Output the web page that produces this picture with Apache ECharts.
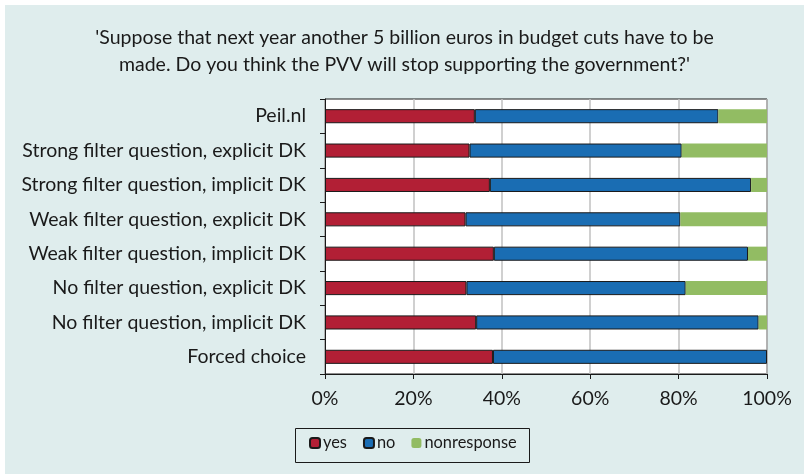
<!DOCTYPE html>
<html>
<head>
<meta charset="utf-8">
<script src="https://cdn.jsdelivr.net/npm/echarts@6/dist/echarts.min.js"></script>
<style>
  html, body { margin: 0; padding: 0; background: #ffffff; }
  #chart { position: absolute; left: 5px; top: 5px; width: 799px; height: 469px; background: #dfeded; }
</style>
</head>
<body>
<div id="chart"></div>
<script>
// Survey conditions, listed top to bottom
const categories = [
  'Peil.nl',
  'Strong filter question, explicit DK',
  'Strong filter question, implicit DK',
  'Weak filter question, explicit DK',
  'Weak filter question, implicit DK',
  'No filter question, explicit DK',
  'No filter question, implicit DK',
  'Forced choice'
];
// Shares in percent, same order as categories
const yesValues = [33.9, 32.7, 37.3, 31.8, 38.2, 32.0, 34.2, 38.0];
const noValues = [55.1, 48.0, 59.1, 48.6, 57.5, 49.6, 63.9, 62.0];
const nonresponseValues = [11.0, 19.3, 3.6, 19.6, 4.3, 18.4, 1.9, 0.0];
const xTicks = [0, 20, 40, 60, 80, 100];

const titleLines = [
  "'Suppose that next year another 5 billion euros in budget cuts have to be",
  "made. Do you think the PVV will stop supporting the government?'"
];

const FONT = 'Lato, "Open Sans", sans-serif';
const INK = '#1a1a1a';
const chart = echarts.init(document.getElementById('chart'));

// category axis is drawn bottom-up, so reverse for top-down order
const rev = a => a.slice().reverse();

const barBase = {
  type: 'bar',
  stack: 'total',
  barCategoryGap: '59%',
  silent: true
};

chart.setOption({
  animation: false,
  title: {
    text: titleLines.join('\n'),
    left: 'center',
    top: 14,
    textStyle: { fontFamily: FONT, fontSize: 19.5, fontWeight: 'normal', color: INK, lineHeight: 27 }
  },
  grid: {
    left: 320, right: 37, top: 94, bottom: 100,
    show: true, backgroundColor: '#ffffff', borderColor: INK, borderWidth: 1
  },
  // frame around the legend
  graphic: [{
    type: 'rect', left: 288, top: 421, silent: true,
    shape: { width: 234, height: 34 },
    style: { fill: 'none', stroke: INK, lineWidth: 1 }
  }],
  legend: {
    left: 304, top: 429,
    itemWidth: 10, itemHeight: 10, itemGap: 16,
    padding: 0,
    textStyle: { fontFamily: FONT, fontSize: 16.4, color: INK, lineHeight: 18, padding: [0, 0, 0, -2] },
    data: ['yes', 'no', 'nonresponse']
  },
  xAxis: {
    type: 'value', min: 0, max: 100, interval: 20,
    axisLine: { show: true, lineStyle: { color: INK, width: 1 } },
    axisTick: { show: true, length: 5, lineStyle: { color: INK } },
    axisLabel: {
      fontFamily: FONT, fontSize: 19.5, color: INK, margin: 15,
      formatter: v => xTicks.includes(v) ? v + '%' : ''
    },
    splitLine: { show: true, lineStyle: { color: '#c0c0c0', width: 1.5 } }
  },
  yAxis: {
    type: 'category', data: rev(categories),
    axisLine: { show: true, lineStyle: { color: INK, width: 1 } },
    axisTick: { show: true, length: 5, lineStyle: { color: INK } },
    axisLabel: { fontFamily: FONT, fontSize: 19.5, color: INK, margin: 19 }
  },
  series: [
    Object.assign({}, barBase, {
      name: 'yes', data: rev(yesValues),
      itemStyle: { color: '#b21f35', borderColor: INK, borderWidth: 1 }
    }),
    Object.assign({}, barBase, {
      name: 'no', data: rev(noValues),
      itemStyle: { color: '#1a6db3', borderColor: INK, borderWidth: 1 }
    }),
    Object.assign({}, barBase, {
      name: 'nonresponse', data: rev(nonresponseValues),
      itemStyle: { color: '#92bc63' }
    })
  ]
});
</script>
</body>
</html>
